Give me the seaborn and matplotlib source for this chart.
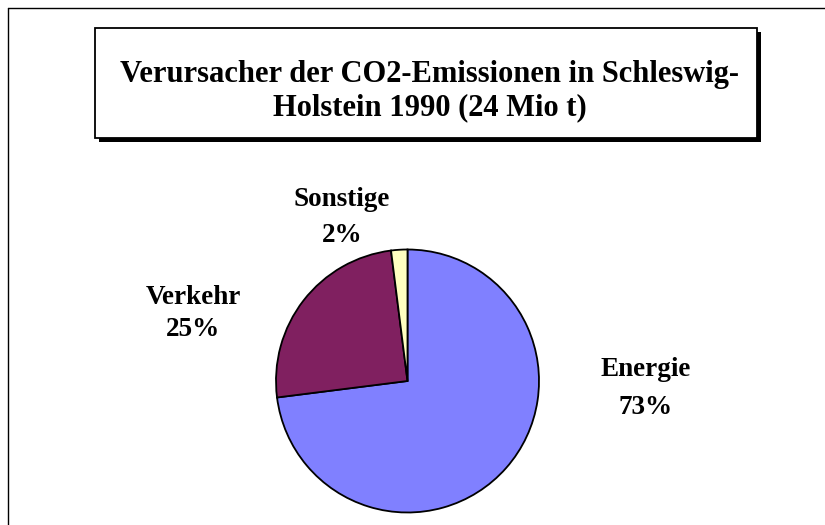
import matplotlib
matplotlib.use("Agg")
import matplotlib.pyplot as plt
import seaborn as sns
from matplotlib.patches import Rectangle
from matplotlib.lines import Line2D

categories = ["Energie", "Verkehr", "Sonstige"]
values = [73, 25, 2]
colors = ["#8080FF", "#802060", "#FFFFC0"]
title_lines = ["Verursacher der CO2-Emissionen in Schleswig-", "Holstein 1990 (24 Mio t)"]

sns.set_theme(style="white")
plt.rcParams['font.family'] = ['Liberation Serif', 'DejaVu Serif']
plt.rcParams['text.color'] = 'black'

W, H = 825, 525
fig = plt.figure(figsize=(W / 100, H / 100), dpi=100)
fig.patch.set_facecolor("white")

def fx(px):
    return px / W

def fy(py):
    return 1 - py / H

# outer frame (top and left only visible)
fig.add_artist(Line2D([fx(8), 1], [fy(8), fy(8)], color="black", lw=1.0, transform=fig.transFigure))
fig.add_artist(Line2D([fx(8), fx(8)], [fy(8), 0], color="black", lw=1.0, transform=fig.transFigure))

# title box with shadow
bx0, by0, bx1, by1 = 95, 28, 757, 138
off = 4
fig.add_artist(Rectangle((fx(bx0 + off), fy(by1 + off)), fx(bx1 - bx0), (by1 - by0) / H,
                         transform=fig.transFigure, facecolor="black", edgecolor="black", lw=0))
fig.add_artist(Rectangle((fx(bx0), fy(by1)), fx(bx1 - bx0), (by1 - by0) / H,
                         transform=fig.transFigure, facecolor="white", edgecolor="black", lw=1.3))
fig.text(fx(430), fy(75), title_lines[0], ha="center", va="center", fontsize=22, fontweight="bold", color="black")
fig.text(fx(430), fy(108), title_lines[1], ha="center", va="center", fontsize=22, fontweight="bold", color="black")

# pie axes
cx, cy, r = 407.5, 381, 131.5
ax = fig.add_axes([fx(cx - r), fy(cy + r), 2 * r / W, 2 * r / H])
ax.pie(values, colors=colors, startangle=90, counterclock=False,
       wedgeprops=dict(edgecolor="black", linewidth=1.3))
ax.set_xlim(-1.0, 1.0)
ax.set_ylim(-1.0, 1.0)
ax.set_axis_off()

label_pos = {"Energie": (646, 370, 407), "Verkehr": (193, 297, 330), "Sonstige": (342, 200, 235)}
for cat, val in zip(categories, values):
    x, y1, y2 = label_pos[cat]
    fig.text(fx(x), fy(y1), cat, ha="center", va="center", fontsize=19.5, fontweight="bold", color="black")
    fig.text(fx(x), fy(y2), f"{val}%", ha="center", va="center", fontsize=19.5, fontweight="bold", color="black")

fig.savefig("out.png", dpi=100)
